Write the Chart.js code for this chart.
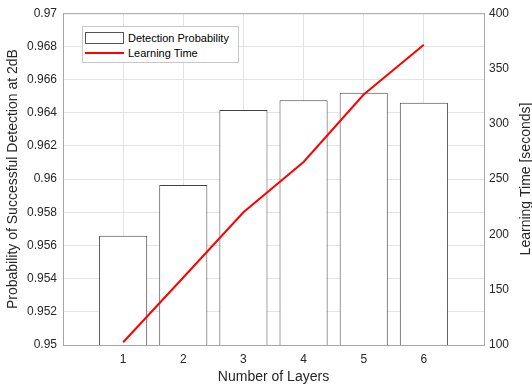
<!DOCTYPE html>
<html>
<head>
<meta charset="utf-8">
<script src="https://cdn.jsdelivr.net/npm/chart.js@4"></script>
<style>
  body { margin: 0; background: #fff; }
  #wrap { position: relative; width: 532px; height: 387px; font-family: "Liberation Sans", Arial, sans-serif; }
  #legend { position: absolute; left: 82px; top: 26px; width: 155px; height: 35px; border: 1px solid #c8c8c8; background: #fff; font-size: 11px; color: #000; }
  .row { position: absolute; left: 0; height: 14px; line-height: 14px; white-space: nowrap; }
  .sw { position: absolute; left: 2px; width: 39px; }
  .lab { position: absolute; left: 45px; }
</style>
</head>
<body>
<div id="wrap">
  <canvas id="c" width="532" height="387"></canvas>
  <div id="legend">
    <div class="row" style="top:4px"><span class="sw" style="top:1px;height:10px;border:1px solid #555;width:37px"></span><span class="lab">Detection Probability</span></div>
    <div class="row" style="top:19px"><span class="sw" style="top:6px;height:2px;background:#ff0000"></span><span class="lab">Learning Time</span></div>
  </div>
</div>
<script>
// Number of layers vs detection probability (bars, left) and learning time (line, right)
const layers = [1, 2, 3, 4, 5, 6];
const detectionProb = [0.95658, 0.95965, 0.96416, 0.96476, 0.9652, 0.9646];
const learningTime = [102.5, 161, 220, 265.5, 326.5, 371.5];

const fmt = v => String(Number(v.toFixed(3)));

// right axis title reads bottom-to-top like the left one
const rightTitle = {
    id: 'rightTitle',
    afterDraw(chart) {
        const ctx = chart.ctx;
        ctx.save();
        ctx.translate(526, 179);
        ctx.rotate(-Math.PI / 2);
        ctx.font = '14px "Liberation Sans", Arial, sans-serif';
        ctx.fillStyle = '#262626';
        ctx.textAlign = 'center';
        ctx.textBaseline = 'middle';
        ctx.fillText('Learning Time [seconds]', 0, 0);
        ctx.restore();
    }
};
// box top edge
const box = {
    id: 'box',
    afterDatasetsDraw(chart) {
        const a = chart.chartArea, ctx = chart.ctx;
        ctx.save();
        ctx.strokeStyle = '#a6a6a6';
        ctx.lineWidth = 1;
        ctx.beginPath();
        ctx.moveTo(a.left, a.top + 0.5);
        ctx.lineTo(a.right, a.top + 0.5);
        ctx.stroke();
        ctx.restore();
    }
};

Chart.defaults.font.family = '"Liberation Sans", Arial, sans-serif';
Chart.defaults.color = '#262626';

new Chart(document.getElementById('c'), {
    type: 'bar',
    data: {
        datasets: [
            {
                type: 'line', label: 'Learning Time', yAxisID: 'y2', order: 0,
                data: layers.map((x, i) => ({ x, y: learningTime[i] })),
                borderColor: '#ff0000', borderWidth: 2, pointRadius: 0, tension: 0, fill: false
            },
            {
                type: 'bar', label: 'Detection Probability', yAxisID: 'y', order: 1,
                data: layers.map((x, i) => ({ x, y: detectionProb[i] })),
                backgroundColor: '#ffffff', borderColor: '#444444', borderWidth: 1,
                barPercentage: 0.8, categoryPercentage: 1
            }
        ]
    },
    options: {
        responsive: false,
        animation: false,
        layout: { padding: { top: 13, right: 0, left: 0, bottom: 0 } },
        plugins: { legend: { display: false }, tooltip: { enabled: false } },
        scales: {
            x: {
                type: 'linear', min: 0, max: 7, offset: false,
                ticks: { stepSize: 1, padding: 7, font: { size: 12 }, callback: v => (v >= 1 && v <= 6) ? String(v) : '' },
                grid: { color: '#e3e3e3', drawTicks: false, offset: false },
                border: { color: '#a6a6a6' },
                title: { display: true, text: 'Number of Layers', font: { size: 14 }, padding: { top: 0, bottom: 1 } },
                afterFit: s => { s.height = 42; }
            },
            y: {
                position: 'left', min: 0.95, max: 0.97,
                ticks: { stepSize: 0.002, padding: 6, font: { size: 12 }, callback: v => fmt(v) },
                grid: { color: '#e3e3e3', drawTicks: false },
                border: { color: '#a6a6a6' },
                title: { display: true, text: 'Probability of Successful Detection at 2dB', font: { size: 14 }, padding: { top: 5, bottom: 0 } },
                afterFit: s => { s.width = 63; }
            },
            y2: {
                position: 'right', min: 100, max: 400,
                ticks: { stepSize: 50, padding: 5, font: { size: 12 } },
                grid: { display: false, drawTicks: false },
                border: { color: '#a6a6a6' },
                afterFit: s => { s.width = 48; }
            }
        }
    },
    plugins: [rightTitle, box]
});
</script>
</body>
</html>
